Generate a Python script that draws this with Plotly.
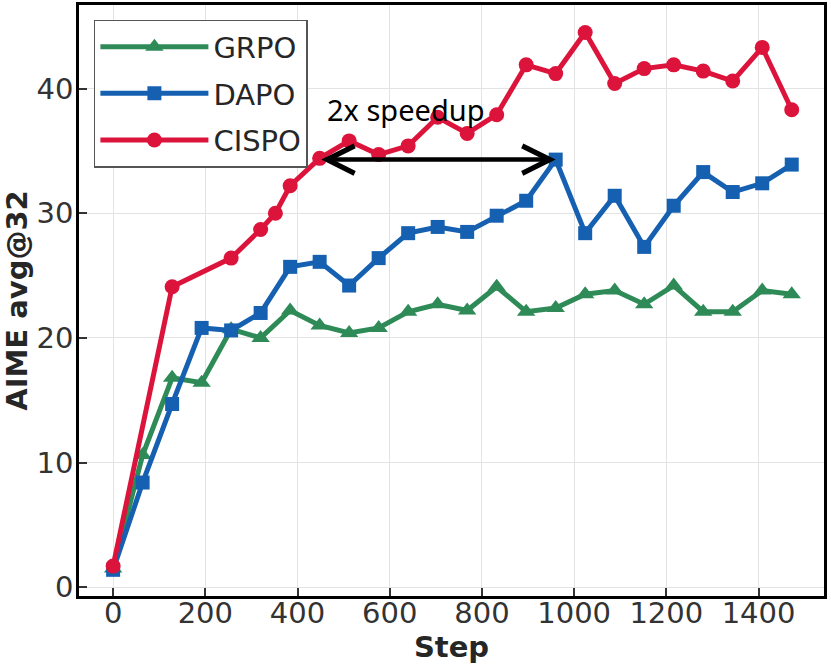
import plotly.graph_objects as go

steps = [0, 64, 128, 192, 256, 320, 384, 448, 512, 576, 640, 704, 768, 832,
         896, 960, 1024, 1088, 1152, 1216, 1280, 1344, 1408, 1472]
grpo = [1.5, 10.6, 16.8, 16.4, 20.7, 20.0, 22.2, 21.0, 20.4, 20.8, 22.1, 22.7,
        22.2, 24.1, 22.1, 22.4, 23.5, 23.8, 22.7, 24.2, 22.1, 22.1, 23.8, 23.5]
dapo = [1.4, 8.4, 14.7, 20.8, 20.6, 22.0, 25.7, 26.1, 24.2, 26.4, 28.4, 28.9,
        28.5, 29.8, 31.0, 34.3, 28.4, 31.4, 27.3, 30.6, 33.3, 31.7, 32.4, 33.9]
cispo_steps = [0, 128, 256, 320, 352, 384, 448, 512, 576, 640, 704, 768, 832,
               896, 960, 1024, 1088, 1152, 1216, 1280, 1344, 1408, 1472]
cispo = [1.7, 24.1, 26.4, 28.7, 30.0, 32.2, 34.4, 35.8, 34.7, 35.4, 37.7, 36.4,
         37.9, 41.9, 41.2, 44.5, 40.4, 41.6, 41.9, 41.4, 40.6, 43.3, 38.3]

x_ticks = [0, 200, 400, 600, 800, 1000, 1200, 1400]
y_ticks = [0, 10, 20, 30, 40]

GREEN = "#2E8B57"
BLUE = "#1560B0"
RED = "#DC143C"

fig = go.Figure()
fig.add_trace(go.Scatter(x=steps, y=grpo, name="GRPO", mode="lines+markers",
                         line=dict(color=GREEN, width=5), legendgroup="g",
                         marker=dict(symbol="triangle-up", size=16, color=GREEN)))
fig.add_trace(go.Scatter(x=steps, y=dapo, name="DAPO", mode="lines+markers",
                         line=dict(color=BLUE, width=5), legendgroup="d",
                         marker=dict(symbol="square", size=14, color=BLUE)))
fig.add_trace(go.Scatter(x=cispo_steps, y=cispo, name="CISPO", mode="lines+markers",
                         line=dict(color=RED, width=5), legendgroup="c",
                         marker=dict(symbol="circle", size=15, color=RED)))

# speedup arrow: from CISPO reaching ~34 to DAPO reaching ~34
i_d = dapo.index(max(dapo[:17]))
i_c = cispo_steps.index(448)
fig.add_annotation(x=steps[i_d], y=dapo[i_d], ax=cispo_steps[i_c], ay=dapo[i_d],
                   xref="x", yref="y", axref="x", ayref="y", text="",
                   showarrow=True, arrowhead=5, startarrowhead=5,
                   arrowside="end+start", arrowwidth=4.5, arrowsize=1.2,
                   startarrowsize=1.2, arrowcolor="black", standoff=0, startstandoff=0)
fig.add_annotation(x=636, y=38.3, xref="x", yref="y", text="2x speedup",
                   showarrow=False, font=dict(family="Noto Sans", size=29, color="black"))

axis_common = dict(
    showline=True, linecolor="black", linewidth=2.5, mirror=True,
    showgrid=True, gridcolor="#E3E3E3", gridwidth=1,
    ticks="inside", ticklen=8, tickwidth=1.5, tickcolor="#333333",
    tickfont=dict(family="DejaVu Sans", size=29, color="#333333"),
    zeroline=False, automargin=False,
)
fig.update_xaxes(range=[-74, 1542], tickvals=x_ticks, ticklabelstandoff=-11,
                 title=dict(text="<b>Step</b>", standoff=0,
                            font=dict(family="DejaVu Sans", size=29, color="#262626")),
                 **axis_common)
fig.update_yaxes(range=[-0.7, 46.7], tickvals=y_ticks, ticklabelstandoff=-3,
                 title=dict(text="<b>AIME avg@32</b>", standoff=6,
                            font=dict(family="DejaVu Sans", size=29, color="#262626")),
                 **axis_common)

fig.update_layout(
    width=831, height=664,
    margin=dict(l=79, r=7, t=5, b=68),
    plot_bgcolor="white", paper_bgcolor="white",
    showlegend=True,
    legend=dict(x=0.02, y=0.975, xanchor="left", yanchor="top",
                bgcolor="white", bordercolor="#555555", borderwidth=1.5,
                font=dict(family="DejaVu Sans", size=29, color="#262626"),
                tracegroupgap=6, itemwidth=108),
)

fig.write_html("out.html", config={"displayModeBar": False},
               post_script="document.body.style.margin='0';document.body.style.overflow='hidden';")
